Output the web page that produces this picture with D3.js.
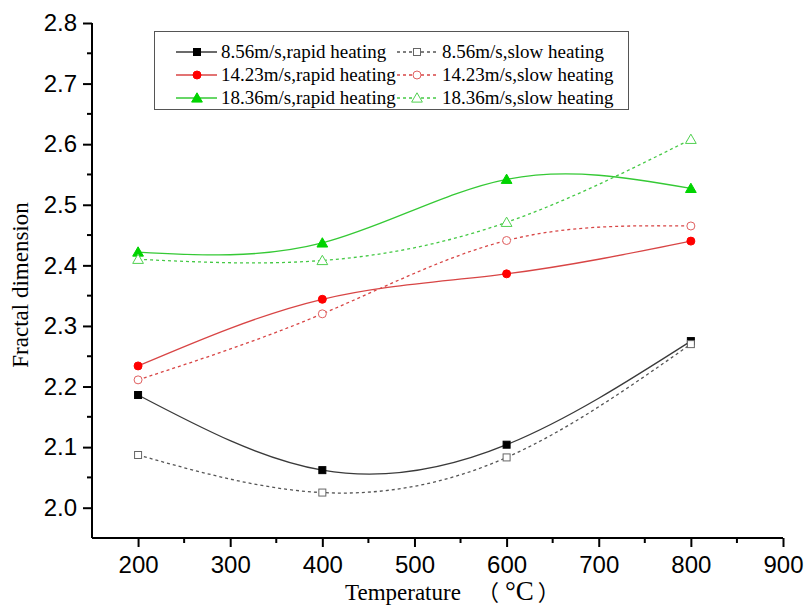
<!DOCTYPE html>
<html>
<head>
<meta charset="utf-8">
<script src="https://cdn.jsdelivr.net/npm/d3@7"></script>
<style>
  html, body { margin: 0; padding: 0; background: #fff; }
  svg { display: block; }
</style>
</head>
<body>
<svg id="chart" width="807" height="611"></svg>
<script>
// Temperature (°C) at which samples were measured
const temperatures = [200, 400, 600, 800];

// Fractal dimension per wind speed and heating mode
const rapid856 = [2.186, 2.062, 2.104, 2.275];
const slow856  = [2.087, 2.025, 2.083, 2.270];
const rapid1423 = [2.234, 2.344, 2.386, 2.440];
const slow1423  = [2.211, 2.320, 2.441, 2.465];
const rapid1836 = [2.422, 2.437, 2.542, 2.527];
const slow1836  = [2.410, 2.408, 2.471, 2.608];

const seriesLabels = [
  "8.56m/s,rapid heating", "8.56m/s,slow heating",
  "14.23m/s,rapid heating", "14.23m/s,slow heating",
  "18.36m/s,rapid heating", "18.36m/s,slow heating"
];

const xTicks = [200, 300, 400, 500, 600, 700, 800, 900];
const yTicks = [2.0, 2.1, 2.2, 2.3, 2.4, 2.5, 2.6, 2.7, 2.8];

const series = [
  { label: seriesLabels[0], values: rapid856,  line: "#3a3a3a", fill: "#000",    marker: "square",   dashed: false },
  { label: seriesLabels[1], values: slow856,   line: "#555",    fill: "none",    stroke: "#666", marker: "square",   dashed: true },
  { label: seriesLabels[2], values: rapid1423, line: "#d84545", fill: "#ff0000", marker: "circle",   dashed: false },
  { label: seriesLabels[3], values: slow1423,  line: "#d84545", fill: "none",    stroke: "#e06060", marker: "circle", dashed: true },
  { label: seriesLabels[4], values: rapid1836, line: "#35c935", fill: "#00d400", marker: "triangle", dashed: false },
  { label: seriesLabels[5], values: slow1836,  line: "#45c945", fill: "none",    stroke: "#50d050", marker: "triangle", dashed: true }
];

const svg = d3.select("#chart");
const x = d3.scaleLinear().domain([150, 900]).range([92, 783]);
const y = d3.scaleLinear().domain([1.95, 2.8]).range([538, 23]);

const serif = "'Liberation Serif', 'Times New Roman', serif";
const sans = "'Liberation Sans', Arial, sans-serif";
const cjk = "'Noto Sans CJK SC', sans-serif";

// Axes with outward major ticks
const xAxis = svg.append("g").attr("transform", `translate(0,${y(1.95)})`)
  .call(d3.axisBottom(x).tickValues(xTicks).tickSize(9).tickPadding(9).tickFormat(d3.format("d")));
const yAxis = svg.append("g").attr("transform", `translate(${x(150)},0)`)
  .call(d3.axisLeft(y).tickValues(yTicks).tickSize(9).tickPadding(6).tickFormat(d3.format(".1f")));

// Minor ticks
const xMinor = d3.range(250, 900, 100);
const yMinor = d3.range(2.05, 2.8, 0.1);
svg.append("g").selectAll("line").data(xMinor).join("line")
  .attr("x1", d => x(d)).attr("x2", d => x(d))
  .attr("y1", y(1.95)).attr("y2", y(1.95) + 5)
  .attr("stroke", "#000").attr("stroke-width", 2);
svg.append("g").selectAll("line").data(yMinor).join("line")
  .attr("y1", d => y(d)).attr("y2", d => y(d))
  .attr("x1", x(150)).attr("x2", x(150) - 5)
  .attr("stroke", "#000").attr("stroke-width", 2);

[xAxis, yAxis].forEach(g => {
  g.select(".domain").attr("stroke", "#000").attr("stroke-width", 2);
  g.selectAll(".tick line").attr("stroke", "#000").attr("stroke-width", 2);
  g.selectAll(".tick text").attr("font-family", sans).attr("font-size", 24).attr("fill", "#000");
});
yAxis.select(".domain").attr("d", `M0,${y(2.8)}V${y(1.95)}`);
xAxis.select(".domain").attr("d", `M${x(150)},0H${x(900)}`);

// Axis titles
const xTitle = svg.append("text")
  .attr("x", 345).attr("y", 600)
  .attr("font-family", serif).attr("font-size", 23);
xTitle.append("tspan").text("Temperature");
xTitle.append("tspan").attr("dx", 16).attr("font-family", cjk).attr("font-size", 22).text("（");
xTitle.append("tspan").attr("dx", 6).attr("font-size", 27).text("°C");
xTitle.append("tspan").attr("dx", 4).attr("font-family", cjk).attr("font-size", 22).text("）");

svg.append("text")
  .attr("transform", "translate(28,285) rotate(-90)")
  .attr("text-anchor", "middle")
  .attr("font-family", serif).attr("font-size", 23)
  .text("Fractal dimension");

// Marker drawing
function drawMarker(g, s, cx, cy) {
  const fill = s.fill;
  const stroke = s.fill === "none" ? s.stroke : s.fill;
  if (s.marker === "square") {
    g.append("rect").attr("x", cx - 3.5).attr("y", cy - 3.5).attr("width", 7).attr("height", 7)
      .attr("fill", fill === "none" ? "#fff" : fill).attr("stroke", stroke).attr("stroke-width", 1);
  } else if (s.marker === "circle") {
    g.append("circle").attr("cx", cx).attr("cy", cy).attr("r", 4)
      .attr("fill", fill === "none" ? "#fff" : fill).attr("stroke", stroke).attr("stroke-width", 1);
  } else {
    const sym = d3.symbol().type(d3.symbolTriangle).size(50);
    g.append("path").attr("d", sym()).attr("transform", `translate(${cx},${cy + 1})`)
      .attr("fill", fill === "none" ? "#fff" : fill).attr("stroke", stroke).attr("stroke-width", 1);
  }
}

// Smoothed series lines and markers
const line = d3.line().x(d => x(d[0])).y(d => y(d[1])).curve(d3.curveNatural);
series.forEach(s => {
  const pts = temperatures.map((t, i) => [t, s.values[i]]);
  const g = svg.append("g");
  g.append("path").attr("d", line(pts))
    .attr("fill", "none").attr("stroke", s.line).attr("stroke-width", 1.3)
    .attr("stroke-dasharray", s.dashed ? "3,3" : null);
  pts.forEach(p => drawMarker(g, s, x(p[0]), y(p[1])));
});

// Legend
const legend = svg.append("g");
legend.append("rect").attr("x", 154.5).attr("y", 31.5).attr("width", 474).attr("height", 78)
  .attr("fill", "#fff").attr("stroke", "#555").attr("stroke-width", 1);
const rowY = [52, 75, 98];
const colX = [{ l0: 176, l1: 217, m: 197, t: 221 }, { l0: 397, l1: 437, m: 417, t: 442 }];
series.forEach((s, i) => {
  const row = Math.floor(i / 2), col = colX[i % 2];
  const yy = rowY[row];
  legend.append("line").attr("x1", col.l0).attr("x2", col.l1).attr("y1", yy).attr("y2", yy)
    .attr("stroke", s.line).attr("stroke-width", 1.3)
    .attr("stroke-dasharray", s.dashed ? "3,3" : null);
  drawMarker(legend, s, col.m, yy);
  legend.append("text").attr("x", col.t).attr("y", yy + 6)
    .attr("font-family", serif).attr("font-size", 19).attr("fill", "#000")
    .text(s.label);
});
</script>
</body>
</html>
